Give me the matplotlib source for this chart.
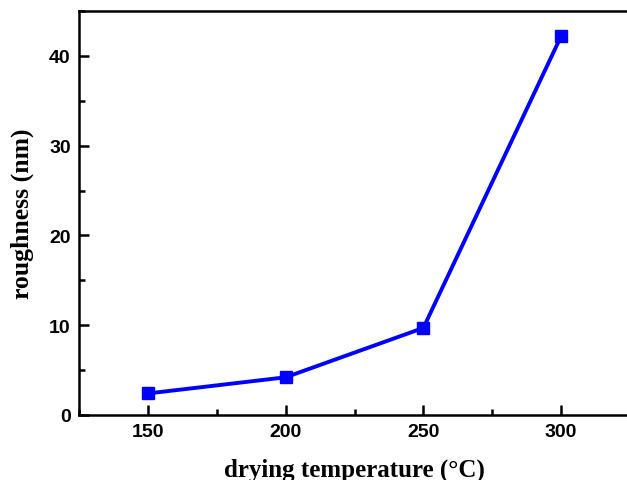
import matplotlib
matplotlib.use("Agg")
import matplotlib.pyplot as plt
from matplotlib.ticker import MultipleLocator

temperature = [150, 200, 250, 300]
roughness = [2.4, 4.2, 9.7, 42.2]
xticks = [150, 200, 250, 300]
yticks = [0, 10, 20, 30, 40]

fig = plt.figure(figsize=(6.27, 4.81), dpi=100)
ax = fig.add_axes([79/627, 65/481, 551/627, 404/481])
ax.plot(temperature, roughness, color="#0000ff", lw=2.8, marker="s",
        markersize=9, markerfacecolor="#0000ff", markeredgecolor="#0000ff")
ax.set_xlim(125, 325)
ax.set_ylim(0, 45)
ax.set_xticks(xticks)
ax.set_yticks(yticks)
ax.xaxis.set_minor_locator(MultipleLocator(25))
ax.yaxis.set_minor_locator(MultipleLocator(5))
for s in ax.spines.values():
    s.set_linewidth(1.8)
ax.tick_params(which="major", direction="in", length=7, width=1.8,
               labelsize=14, pad=6, top=False, right=False)
ax.tick_params(which="minor", direction="in", length=4, width=1.8,
               top=False, right=False)
for lab in ax.get_xticklabels() + ax.get_yticklabels():
    lab.set_fontfamily("Liberation Sans")
    lab.set_fontweight("bold")
ax.set_xlabel("drying temperature (°C)", fontfamily="Liberation Serif",
              fontweight="bold", fontsize=18, labelpad=12.5)
ax.set_ylabel("roughness (nm)", fontfamily="Liberation Serif",
              fontweight="bold", fontsize=18.5, labelpad=11)
fig.savefig("out.png", dpi=100)
